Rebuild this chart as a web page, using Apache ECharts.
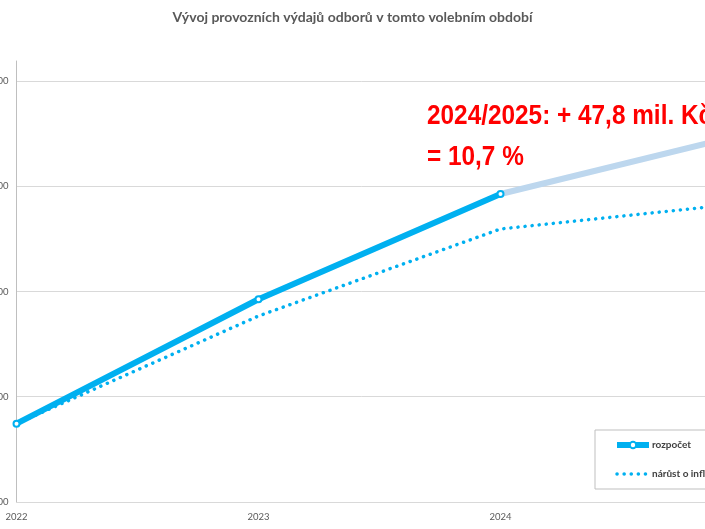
<!DOCTYPE html>
<html>
<head>
<meta charset="utf-8">
<script src="https://cdn.jsdelivr.net/npm/echarts@6/dist/echarts.min.js"></script>
<style>
html,body{margin:0;padding:0;background:#fff;}
#c{width:705px;height:529px;}
</style>
</head>
<body>
<div id="c"></div>
<script>
const categories = ['2022', '2023', '2024', '2025'];
const rozpocet = [274.4, 392.6, 492.6, null];
const rozpocetPlan = [null, null, 492.6, 548.9];
const inflace = [274.4, 376.7, 459.4, 483.8];
const yTicks = [200, 300, 400, 500, 600];
const chartTitle = 'Vývoj provozních výdajů odborů v tomto volebním období';
const note1 = '2024/2025: + 47,8 mil. Kč';
const note2 = '= 10,7 %';

const chart = echarts.init(document.getElementById('c'), null, {renderer: 'canvas'});
const blue = '#00b0f0';
const noteStyle = {fontFamily: '"Liberation Sans", Arial, sans-serif', fontWeight: 'bold', fontSize: 28, fill: '#ff0000'};
chart.setOption({
  animation: false,
  backgroundColor: '#fff',
  title: [
    {text: chartTitle, left: 'center', top: 10, padding: 0,
     textStyle: {fontFamily: 'Lato', fontWeight: 'bold', fontSize: 14, color: '#595959'}}
  ],
  graphic: [
    {type: 'text', x: 427, y: 102, scaleX: 0.87, z: 100,
     style: Object.assign({text: note1}, noteStyle)},
    {type: 'text', x: 427, y: 143, scaleX: 0.87, z: 100,
     style: Object.assign({text: note2}, noteStyle)}
  ],
  legend: {
    orient: 'vertical', left: 595, top: 430,
    padding: [10, 30, 10, 19], itemGap: 19, itemWidth: 32, itemHeight: 8,
    borderColor: '#bfbfbf', borderWidth: 1,
    data: [
      {name: 'rozpočet', lineStyle: {width: 6}},
      {name: 'nárůst o inflaci', itemStyle: {opacity: 0}, lineStyle: {width: 3.5}}
    ],
    textStyle: {fontFamily: 'Lato', fontWeight: 'bold', fontSize: 10, color: '#404040', padding: [0,0,0,-2]}
  },
  grid: {left: 16.5, right: -37.5, top: 61, bottom: 27, containLabel: false, outerBoundsMode: 'none'},
  xAxis: {
    type: 'category', data: categories, boundaryGap: false,
    axisLine: {show: true, lineStyle: {color: '#d9d9d9', width: 1}},
    axisTick: {show: false},
    axisLabel: {fontFamily: 'Lato', fontSize: 9.5, color: '#595959', margin: 10}
  },
  yAxis: {
    type: 'value', min: yTicks[0], max: 619, interval: yTicks[1] - yTicks[0],
    axisLine: {show: true, lineStyle: {color: '#bfbfbf', width: 1}},
    axisTick: {show: false},
    axisLabel: {fontFamily: 'Lato', fontSize: 9.5, color: '#595959', margin: 8, showMaxLabel: false},
    splitLine: {show: true, showMaxLine: false, lineStyle: {color: '#d9d9d9', width: 1}}
  },
  series: [
    {name: 'plan', type: 'line', data: rozpocetPlan, showSymbol: false, symbol: 'none',
     lineStyle: {color: '#bdd7ee', width: 6}, itemStyle: {color: '#bdd7ee'}, z: 2},
    {name: 'nárůst o inflaci', type: 'line', data: inflace, symbol: 'none',
     lineStyle: {color: blue, width: 3.5, type: [0.1, 7], cap: 'round'}, itemStyle: {color: blue}, z: 3},
    {name: 'rozpočet', type: 'line', data: rozpocet, symbol: 'emptyCircle', symbolSize: 6,
     lineStyle: {color: blue, width: 6}, itemStyle: {color: blue, borderWidth: 1.5}, z: 4}
  ]
});
</script>
</body>
</html>
